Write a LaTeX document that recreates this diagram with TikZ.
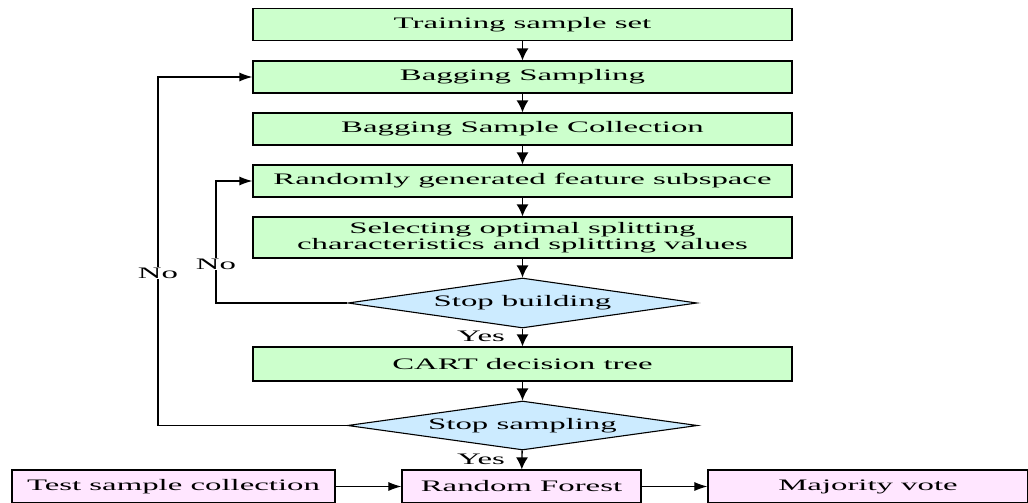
\documentclass[tikz,border=0pt]{standalone}
\usepackage{fontspec}
\setmainfont[FakeStretch=2.05]{Liberation Serif}
\usetikzlibrary{shapes.geometric,arrows.meta}
\definecolor{boxgreen}{HTML}{CCFFCC}
\definecolor{diablue}{HTML}{CCEBFF}
\definecolor{boxpink}{HTML}{FFE6FF}
\tikzset{
  every node/.style={font=\fontsize{16}{19}\selectfont},
  gbox/.style={draw=black, line width=1.2pt, fill=boxgreen, minimum width=539pt, minimum height=32pt, inner sep=0pt, align=center},
  pbox/.style={draw=black, line width=1.2pt, fill=boxpink, minimum height=33pt, inner sep=0pt},
  dbox/.style={draw=black, line width=1.1pt, fill=diablue, diamond, aspect=7, inner sep=0pt},
  arr/.style={-{Latex[length=12pt,width=12pt]}, line width=1.4pt},
  harr/.style={-{Latex[length=13pt,width=9pt]}, line width=1.1pt},
  larr/.style={-{Latex[length=13pt,width=9pt]}, line width=1.2pt},
  lbl/.style={fill=white, inner sep=1pt},
}
\begin{document}
\begin{tikzpicture}[x=1pt,y=-1pt]
\useasboundingbox (0,0) rectangle (1028,503);
\node[gbox] (t1) at (522.5,24.5) {Training sample set};
\node[gbox] (t2) at (522.5,77) {Bagging Sampling};
\node[gbox] (t3) at (522.5,129) {Bagging Sample Collection};
\node[gbox] (t4) at (522.5,181) {Randomly generated feature subspace};
\node[gbox, minimum height=41pt] (t5) at (522.5,237.5) {Selecting optimal splitting\\[-3pt]characteristics and splitting values};
\node[dbox, minimum width=349pt, minimum height=50pt] (d1) at (522.5,303) {Stop building};
\node[gbox, minimum height=34pt] (t6) at (522.5,364) {CART decision tree};
\node[dbox, minimum width=350pt, minimum height=49pt] (d2) at (522.5,425.5) {Stop sampling};
\node[pbox, minimum width=323pt] (b1) at (173.5,486.5) {Test sample collection};
\node[pbox, minimum width=239pt] (b2) at (521.5,486.5) {Random Forest};
\node[pbox, minimum width=320pt] (b3) at (868,486.5) {Majority vote};
\coordinate (c1) at (216,303);
\coordinate (c2) at (158,425.5);
\draw[arr] (t1) -- (t2);
\draw[arr] (t2) -- (t3);
\draw[arr] (t3) -- (t4);
\draw[arr] (t4) -- (t5);
\draw[arr] (t5) -- (d1);
\draw[arr] (d1) -- (t6);
\draw[arr] (t6) -- (d2);
\draw[arr] (d2) -- (b2);
\draw[harr] (b1) -- (b2);
\draw[harr] (b2) -- (b3);
\draw[larr] (d1.west) -- (c1) |- (t4.west);
\draw[larr] (d2.west) -- (c2) |- (t2.west);
\node[lbl] (no1) at (216,264) {No};
\node[lbl] (no2) at (158,273) {No};
\node (y1) at (481,336) {Yes};
\node (y2) at (481,459) {Yes};
\end{tikzpicture}
\end{document}
